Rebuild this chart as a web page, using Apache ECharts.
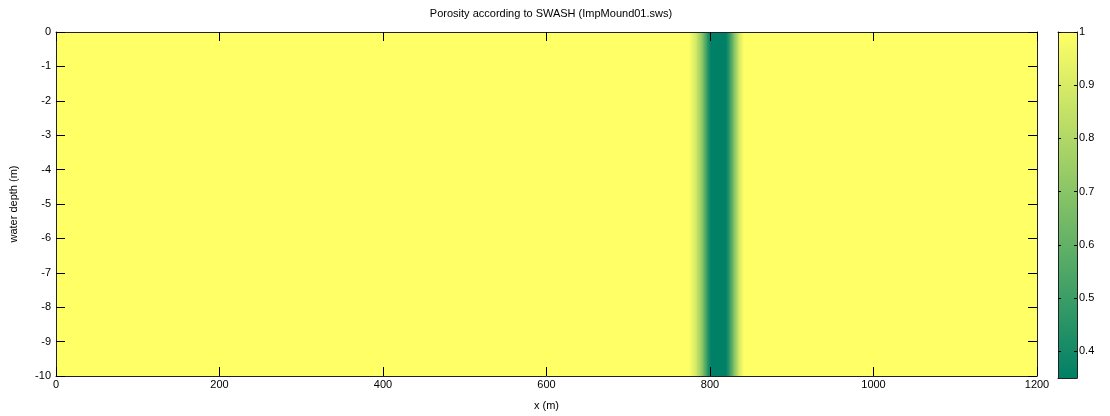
<!DOCTYPE html>
<html>
<head>
<meta charset="utf-8">
<script src="https://cdn.jsdelivr.net/npm/echarts@6/dist/echarts.min.js"></script>
<style>
  html, body { margin: 0; padding: 0; background: #fff; }
  #chart { width: 1110px; height: 416px; }
</style>
</head>
<body>
<div id="chart"></div>
<script>
// porosity profile along x (same over the whole depth)
const xStations = [0, 774, 783, 791, 797, 801, 819, 823, 829, 835, 841, 1200];
const porosity = [1, 1, 0.88, 0.68, 0.45, 0.35, 0.35, 0.45, 0.68, 0.88, 1, 1];

const xTicks = [0, 200, 400, 600, 800, 1000, 1200];
const depthTicks = [0, -1, -2, -3, -4, -5, -6, -7, -8, -9, -10];
const cbarTicks = [0.4, 0.5, 0.6, 0.7, 0.8, 0.9, 1];
const cMin = 0.35, cMax = 1;

// summer colormap (linear in rgb)
const lo = [0, 128, 102], hi = [255, 255, 102];
const cmap = v => {
  let t = (v - cMin) / (cMax - cMin);
  t = Math.max(0, Math.min(1, t));
  const c = lo.map((a, i) => Math.round(a + (hi[i] - a) * t));
  return `rgb(${c[0]},${c[1]},${c[2]})`;
};

const segments = [];
for (let i = 0; i < xStations.length - 1; i++) {
  segments.push([xStations[i], xStations[i + 1], porosity[i], porosity[i + 1]]);
}

const chart = echarts.init(document.getElementById('chart'));
const font = 'Liberation Sans, Arial, sans-serif';
const axisCol = '#222';
const lbl = { color: '#000', fontSize: 11, fontFamily: font };

// shared bits for the axes, drawn above the colour fill
const ax = { z: 10, splitLine: { show: false } };
const line = { onZero: false, lineStyle: { color: axisCol } };
const tick = (len, vals) => ({
  inside: true, length: len, customValues: vals, lineStyle: { color: '#000' }
});

const option = {
  backgroundColor: '#fff',
  animation: false,
  title: {
    text: 'Porosity according to SWASH (ImpMound01.sws)',
    left: 546, textAlign: 'center', top: 3,
    textStyle: { fontSize: 11, fontWeight: 'normal', color: '#000', fontFamily: font }
  },
  grid: [
    { left: 55, right: 73, top: 32, bottom: 38 },
    { left: 1058, width: 19, top: 32, bottom: 38 }
  ],
  xAxis: [
    Object.assign({
      gridIndex: 0, type: 'value', min: 0, max: 1200, position: 'bottom',
      name: 'x (m)', nameLocation: 'middle', nameGap: 24, nameTextStyle: lbl,
      axisLine: line,
      axisTick: tick(9, xTicks),
      axisLabel: Object.assign({ margin: 3, customValues: xTicks, formatter: v => String(v) }, lbl)
    }, ax),
    Object.assign({
      gridIndex: 0, type: 'value', min: 0, max: 1200, position: 'top',
      axisLine: line,
      axisTick: tick(9, xTicks),
      axisLabel: { show: false }
    }, ax),
    Object.assign({
      gridIndex: 1, type: 'value', min: 0, max: 1, position: 'bottom',
      axisLine: line,
      axisTick: { show: false }, axisLabel: { show: false }
    }, ax),
    Object.assign({
      gridIndex: 1, type: 'value', min: 0, max: 1, position: 'top',
      axisLine: line,
      axisTick: { show: false }, axisLabel: { show: false }
    }, ax)
  ],
  yAxis: [
    Object.assign({
      gridIndex: 0, type: 'value', min: -10, max: 0, position: 'left',
      name: 'water depth (m)', nameLocation: 'middle', nameGap: 37, nameTextStyle: lbl,
      axisLine: line,
      axisTick: tick(9, depthTicks),
      axisLabel: Object.assign({ margin: 5, customValues: depthTicks }, lbl)
    }, ax),
    Object.assign({
      gridIndex: 0, type: 'value', min: -10, max: 0, position: 'right',
      axisLine: line,
      axisTick: tick(9, depthTicks),
      axisLabel: { show: false }
    }, ax),
    Object.assign({
      gridIndex: 1, type: 'value', min: cMin, max: cMax, position: 'left',
      axisLine: line,
      axisTick: tick(3, cbarTicks),
      axisLabel: { show: false }
    }, ax),
    Object.assign({
      gridIndex: 1, type: 'value', min: cMin, max: cMax, position: 'right',
      axisLine: line,
      axisTick: tick(3, cbarTicks),
      axisLabel: Object.assign({
        margin: 2, customValues: cbarTicks,
        formatter: v => String(+v.toFixed(1))
      }, lbl)
    }, ax)
  ],
  series: [
    {
      type: 'custom', xAxisIndex: 0, yAxisIndex: 0, clip: true, z: 1,
      data: segments,
      renderItem: (params, api) => {
        const p0 = api.coord([api.value(0), 0]);
        const p1 = api.coord([api.value(1), -10]);
        return {
          type: 'rect',
          shape: { x: p0[0], y: p0[1], width: p1[0] - p0[0] + 0.6, height: p1[1] - p0[1] },
          style: {
            fill: new echarts.graphic.LinearGradient(0, 0, 1, 0, [
              { offset: 0, color: cmap(api.value(2)) },
              { offset: 1, color: cmap(api.value(3)) }
            ])
          }
        };
      }
    },
    {
      type: 'custom', xAxisIndex: 2, yAxisIndex: 2, clip: true, z: 1,
      data: [[0, 1, cMin, cMax]],
      renderItem: (params, api) => {
        const p0 = api.coord([api.value(0), api.value(3)]);
        const p1 = api.coord([api.value(1), api.value(2)]);
        return {
          type: 'rect',
          shape: { x: p0[0], y: p0[1], width: p1[0] - p0[0], height: p1[1] - p0[1] },
          style: {
            fill: new echarts.graphic.LinearGradient(0, 0, 0, 1, [
              { offset: 0, color: cmap(cMax) },
              { offset: 1, color: cmap(cMin) }
            ])
          }
        };
      }
    }
  ]
};

chart.setOption(option);
</script>
</body>
</html>
